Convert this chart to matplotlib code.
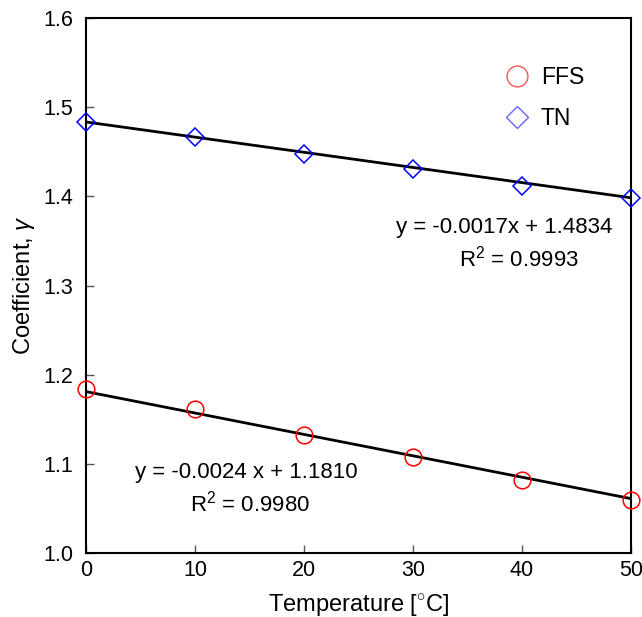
import matplotlib.pyplot as plt
import numpy as np

plt.rcParams['font.family'] = ['Liberation Sans', 'DejaVu Sans']
plt.rcParams['mathtext.fontset'] = 'custom'
plt.rcParams['mathtext.rm'] = 'Liberation Sans'
plt.rcParams['mathtext.it'] = 'Liberation Sans:italic'

# Data
temperature = [0, 10, 20, 30, 40, 50]
gamma_ffs = [1.184, 1.161, 1.132, 1.108, 1.082, 1.059]
gamma_tn = [1.483, 1.466, 1.448, 1.431, 1.412, 1.398]

# fitted lines (slope, intercept) as printed on the chart
fit_ffs = [-0.0024, 1.1810]
fit_tn = [-0.0017, 1.4834]

W, H = 642, 617
fig = plt.figure(figsize=(W / 100, H / 100), dpi=100)
ax = fig.add_axes([86 / W, 1 - 553 / H, 545 / W, 535 / H])

x = np.array(temperature)
ax.plot(x, fit_tn[0] * x + fit_tn[1], color="black", lw=2, zorder=2)
ax.plot(x, fit_ffs[0] * x + fit_ffs[1], color="black", lw=2, zorder=2)

ax.plot(temperature, gamma_ffs, "o", ms=12, mfc="none", mec="red", mew=1.1,
        zorder=3, clip_on=False)
ax.plot(temperature, gamma_tn, "D", ms=9, mfc="none", mec="blue", mew=1.1,
        zorder=3, clip_on=False)

# legend handles (larger, lighter markers)
h1, = ax.plot([], [], "o", ms=15, mfc="none", mec="#ff5555", mew=1.0, label="FFS")
h2, = ax.plot([], [], "D", ms=11, mfc="none", mec="#6666ff", mew=1.0, label="TN")
ax.legend(handles=[h1, h2], loc="upper left",
          bbox_to_anchor=(503 / W, 1 - 66 / H), bbox_transform=fig.transFigure,
          frameon=False, fontsize=16.5, borderpad=0, borderaxespad=0,
          handlelength=1.2, handletextpad=0.45, labelspacing=0.8)

ax.text(0.767, 0.609, "y = -0.0017x + 1.4834", transform=ax.transAxes,
        ha="center", va="center", fontsize=16)
ax.text(0.794, 0.551, "R$^2$ = 0.9993", transform=ax.transAxes,
        ha="center", va="center", fontsize=16)
ax.text(0.295, 0.151, "y = -0.0024 x + 1.1810", transform=ax.transAxes,
        ha="center", va="center", fontsize=16)
ax.text(0.301, 0.093, "R$^2$ = 0.9980", transform=ax.transAxes,
        ha="center", va="center", fontsize=16)

ax.set_xlim(0, 50)
ax.set_ylim(1.0, 1.6)
ax.set_xticks(range(0, 51, 10))
yt = np.arange(1.0, 1.61, 0.1)
ax.set_yticks(yt)
ax.set_yticklabels([f"{v:.1f}" for v in yt])
ax.tick_params(direction="in", length=6, width=1, color="#555555",
               labelsize=15.5, top=False, right=False)
ax.tick_params(axis="y", pad=9)
ax.tick_params(axis="x", pad=5)
for s in ax.spines.values():
    s.set_linewidth(1.5)

ax.set_xlabel("Temperature [$^{\\circ}$C]", fontsize=17, labelpad=8)
ax.set_ylabel("Coefficient, $\\gamma$", fontsize=17, labelpad=5)

plt.savefig("out.png", dpi=100)
